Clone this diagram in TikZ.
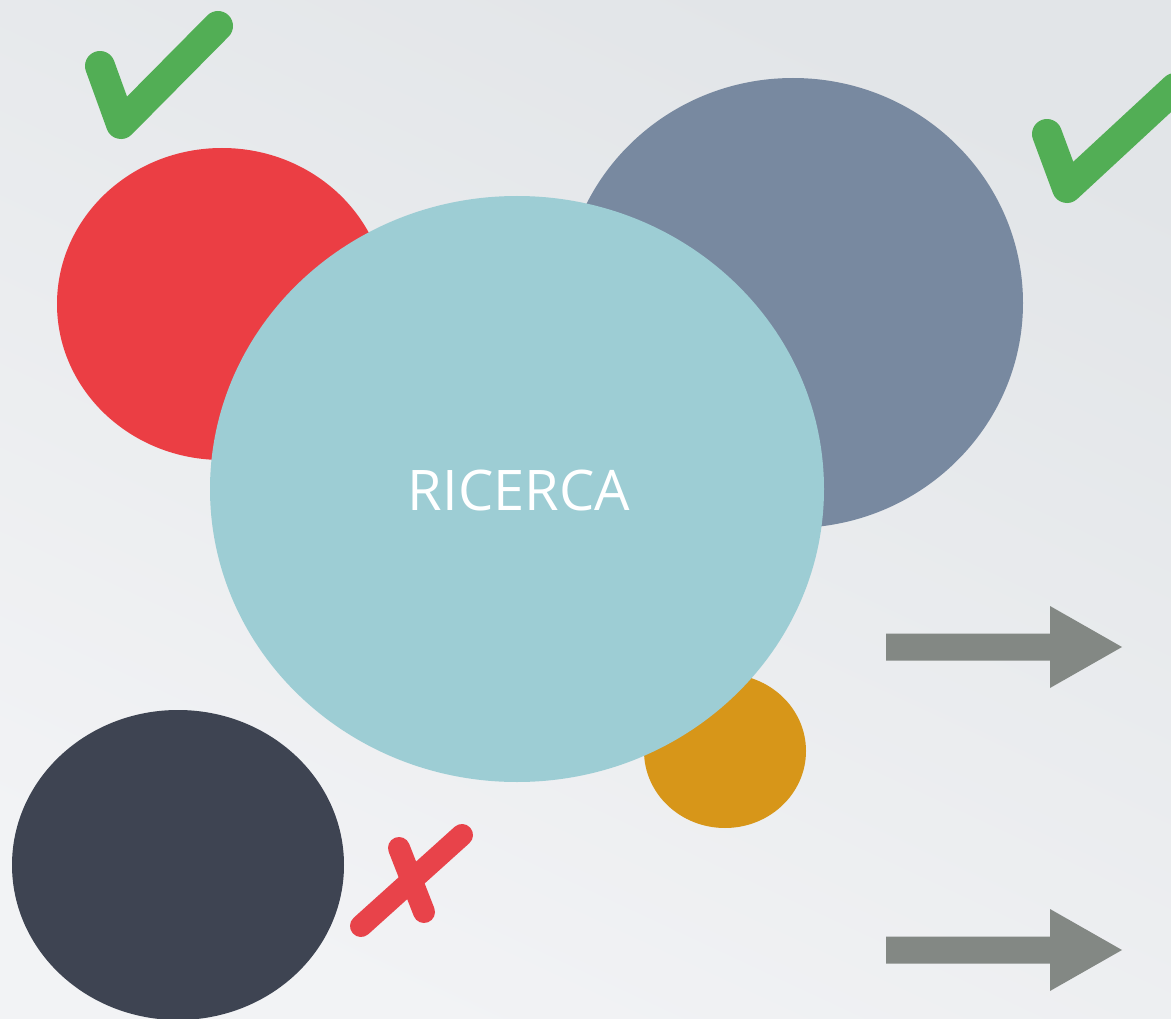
\documentclass[tikz,border=0pt]{standalone}
\usepackage{fontspec}
\setmainfont{Open Sans}
\usepackage{tikz}
\usetikzlibrary{calc}

\definecolor{redblob}{HTML}{EB3E44}
\definecolor{slateblob}{HTML}{7889A0}
\definecolor{tealblob}{HTML}{9DCDD4}
\definecolor{orangeblob}{HTML}{D79619}
\definecolor{darkblob}{HTML}{3E4452}
\definecolor{chalkgreen}{HTML}{52AE55}
\definecolor{chalkred}{HTML}{E8434A}
\definecolor{arrowgray}{HTML}{838884}
\definecolor{bgtop}{HTML}{E2E5E8}
\definecolor{bgbottom}{HTML}{F2F3F5}

\tikzset{
  chalk/.style={line width=#1, line cap=round, line join=round},
  fatarrow/.style={fill=arrowgray}
}

\begin{document}
\begin{tikzpicture}[x=1pt, y=-1pt]
        \useasboundingbox (0,0) rectangle (1171,1019);
        \shade[top color=bgtop, bottom color=bgbottom, shading angle=-25] (0,0) rectangle (1171,1019);

        % blobs
        \fill[redblob] (222,304) ellipse [x radius=165, y radius=156];
        \fill[slateblob] (793,303) ellipse [x radius=230, y radius=225];
        \fill[darkblob] (178,865) ellipse [x radius=166, y radius=155];
        \fill[orangeblob] (725,751) ellipse [x radius=81, y radius=77];
        \fill[tealblob] (517,489) ellipse [x radius=307, y radius=293];
        \node[text=white, font=\fontsize{56}{60}\selectfont, inner sep=0pt] (ricerca) at (519,490) {RICERCA};

        % arrows
        \foreach \name/\y in {up/647, down/950} {
            \coordinate (arrow\name) at (1122,\y);
            \fill[fatarrow] ($(arrow\name)+(-236,-13.5)$) -- ++(164,0) -- ++(0,-27.5) -- (arrow\name)
                -- ($(arrow\name)+(-72,41)$) -- ++(0,-27.5) -- ++(-164,0) -- cycle;
        }

        % check marks and cross
        \coordinate (checkA) at (121,124);
        \draw[chalk=30pt, chalkgreen] (100,66) -- (checkA) -- (218,26);
        \coordinate (checkB) at (1067,188);
        \draw[chalk=30pt, chalkgreen] (1047,134) -- (checkB) -- (1175,88);
        \coordinate (crossA) at (361,926);
        \coordinate (crossB) at (399,848);
        \draw[chalk=22pt, chalkred] (crossA) -- (462,835);
        \draw[chalk=22pt, chalkred] (crossB) -- (424,912);
    \end{tikzpicture}
\end{document}
